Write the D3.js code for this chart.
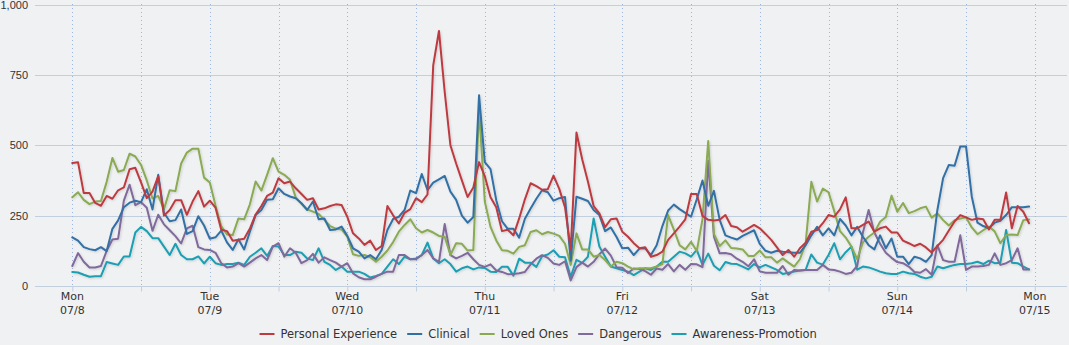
<!DOCTYPE html>
<html><head><meta charset="utf-8">
<script src="https://cdn.jsdelivr.net/npm/d3@7"></script>
<style>
html,body{margin:0;padding:0;background:#eff1f3;}
svg{display:block;font-family:"DejaVu Sans",sans-serif;}
</style></head><body>
<svg id="chart" width="1069" height="345"></svg>
<script>
// ---- data (hourly, Mon 07/8 00:00 .. Sun 07/14 23:00) ----
const seriesNames = ["Personal Experience", "Clinical", "Loved Ones", "Dangerous", "Awareness-Promotion"];
const seriesColors = ["#bd3b40", "#3170a5", "#8aaa52", "#80699b", "#1b9fb2"];

const personalExperience = [
 437,440,330,330,295,285,320,310,340,350,415,420,368,312,335,390,250,270,305,305,253,300,337,282,
 303,278,200,195,161,164,168,204,254,284,320,332,383,365,371,347,327,306,312,272,276,284,290,288,
 246,187,169,146,161,128,142,284,251,222,260,273,312,298,325,784,906,690,500,435,375,316,350,440,
 390,315,280,195,200,180,240,308,365,355,342,344,392,345,280,130,545,450,371,284,258,209,237,240,
 193,175,152,134,138,104,110,122,164,187,211,237,327,327,249,235,233,235,252,213,209,193,205,217,
 205,185,164,137,110,128,104,134,154,193,199,223,252,246,272,315,205,205,217,229,193,205,211,190,
 190,161,152,142,150,137,119,142,164,197,229,252,244,235,240,237,201,235,235,332,205,284,264,223];

const clinical = [
 173,161,138,131,127,138,124,203,233,280,296,303,298,344,272,395,260,230,234,272,185,195,248,215,
 168,173,197,155,128,166,130,193,252,270,306,308,347,327,318,312,294,270,300,237,240,199,201,211,
 178,134,122,98,110,95,128,199,238,246,270,339,330,398,341,367,379,391,335,306,250,225,245,678,
 440,415,305,230,203,203,172,239,275,310,340,333,303,312,316,90,317,310,302,270,252,195,208,174,
 134,136,110,133,134,110,145,213,268,289,273,260,246,308,375,285,338,235,180,172,165,178,188,198,
 150,125,118,125,122,120,118,118,145,180,210,180,205,180,238,215,180,210,175,145,130,180,134,169,
 104,104,78,104,98,86,110,270,383,430,427,496,496,318,225,213,205,225,232,252,280,280,280,282];

const lovedOnes = [
 315,333,306,291,300,302,370,455,406,412,470,460,430,375,311,320,273,340,337,435,474,488,488,385,
 368,286,213,183,181,240,237,290,371,339,395,454,406,395,377,315,292,272,264,256,235,213,204,201,
 175,113,107,110,102,86,104,126,156,193,217,237,205,190,199,190,178,175,110,152,150,126,128,630,
 300,210,162,127,125,115,139,145,192,198,184,192,186,178,150,75,187,130,130,104,110,92,69,86,
 81,69,59,63,63,63,69,78,252,200,145,130,157,124,237,515,185,142,162,135,133,130,107,107,
 126,102,102,83,98,83,69,95,150,370,300,346,333,266,195,172,140,95,155,175,190,228,245,321,
 264,295,259,266,276,282,243,258,234,215,234,240,244,208,184,198,211,194,152,181,183,181,234,236];

const dangerous = [
 71,117,86,66,66,71,125,165,168,303,360,287,298,278,196,253,219,198,177,151,205,214,138,130,
 128,118,81,66,69,81,69,83,98,110,92,140,152,104,134,118,81,92,114,83,102,92,83,69,
 81,45,31,24,24,33,43,51,51,110,110,95,95,110,128,98,86,220,110,98,107,118,95,75,
 68,77,55,50,42,43,45,50,77,97,110,100,80,75,88,20,67,83,69,86,113,133,108,67,
 65,46,62,60,53,40,62,58,78,52,75,58,78,77,67,445,175,116,117,113,97,86,70,95,
 52,47,47,47,71,40,57,55,57,57,57,75,59,57,51,43,47,71,190,270,190,150,118,100,
 85,81,69,50,47,60,40,145,92,86,86,180,57,69,69,71,75,116,75,81,92,134,59,59];

const awarenessPromotion = [
 50,48,40,33,35,35,85,80,75,105,105,190,210,195,170,170,140,110,150,110,95,95,105,80,
 104,81,75,78,78,83,75,104,118,134,107,142,140,110,110,122,118,98,92,134,86,75,57,69,
 51,51,51,43,30,36,43,69,95,78,104,95,98,110,154,98,81,95,78,51,63,69,59,66,
 64,51,50,68,68,37,97,83,83,68,106,112,127,104,102,33,93,82,104,240,140,104,69,63,
 57,51,39,51,63,57,69,86,86,104,122,116,104,128,75,115,72,56,85,79,78,69,59,78,
 66,75,66,57,43,47,51,55,57,112,83,76,110,152,95,120,140,58,69,66,59,51,45,43,
 43,51,45,43,33,27,33,69,63,69,75,78,78,81,86,78,90,81,83,199,83,81,69,59];

const dayLabels  = ["Mon", "Tue", "Wed", "Thu", "Fri", "Sat", "Sun", "Mon"];
const dateLabels = ["07/8", "07/9", "07/10", "07/11", "07/12", "07/13", "07/14", "07/15"];
const yTicks = [0, 250, 500, 750, 1000];

// ---- chart ----
const W = 1069, H = 345;
const svg = d3.select("#chart");
const start = new Date(2013, 6, 8, 0, 0, 0);
const hourAt = h => new Date(start.getTime() + h * 3600 * 1000);

const x = d3.scaleTime()
  .domain([hourAt(-6.51), hourAt(173.45)])
  .range([35, 1066]);
const y = d3.scaleLinear().domain([0, 1000]).range([286, 4.5]);

svg.append("rect").attr("width", W).attr("height", H).attr("fill", "#eff1f3");

// horizontal grid
svg.append("g").selectAll("line").data(yTicks.slice(1)).join("line")
  .attr("x1", 35).attr("x2", 1067)
  .attr("y1", d => Math.round(y(d)) + 0.5).attr("y2", d => Math.round(y(d)) + 0.5)
  .attr("stroke", "#c2cfdf").attr("stroke-width", 1);

// vertical dotted grid every 12h
const halfDays = d3.range(0, 15).map(i => hourAt(i * 12));
svg.append("g").selectAll("line").data(halfDays).join("line")
  .attr("x1", d => Math.round(x(d)) + 0.5).attr("x2", d => Math.round(x(d)) + 0.5)
  .attr("y1", 4).attr("y2", 286)
  .attr("stroke", "#9db4dc").attr("stroke-width", 1).attr("stroke-dasharray", "1,3");

// x axis
const xAxis = d3.axisBottom(x).tickValues(halfDays).tickSize(5).tickFormat("");
const gx = svg.append("g").attr("transform", "translate(0,286.5)").call(xAxis);
gx.select(".domain").attr("stroke", "#c2cfdf").attr("d", "M35,0H1067");
gx.selectAll(".tick line").attr("stroke", "#c2cfdf");

const dayTicks = d3.range(0, 8).map(i => hourAt(i * 24));
const xl = svg.append("g").selectAll("text").data(dayTicks).join("text")
  .attr("x", d => x(d)).attr("text-anchor", "middle")
  .attr("fill", "#333").attr("font-size", "11px");
xl.append("tspan").attr("x", d => x(d)).attr("y", 299.5).text((d, i) => dayLabels[i]);
xl.append("tspan").attr("x", d => x(d)).attr("y", 314).text((d, i) => dateLabels[i]);

// y axis labels
const yAxis = d3.axisLeft(y).tickValues(yTicks).tickSize(0).tickPadding(0)
  .tickFormat(d3.format(","));
const gy = svg.append("g").attr("transform", "translate(28,0)").call(yAxis);
gy.select(".domain").remove();
gy.selectAll("text").attr("fill", "#333").attr("font-size", "11px")
  .attr("font-family", "Liberation Sans, Arial, sans-serif");

// shadow
const defs = svg.append("defs");
const f = defs.append("filter").attr("id", "sh").attr("x", "-5%").attr("y", "-5%").attr("width", "110%").attr("height", "120%");
f.append("feDropShadow").attr("dx", 1).attr("dy", 1).attr("stdDeviation", 1)
  .attr("flood-color", "#000").attr("flood-opacity", 0.15);

const allSeries = [personalExperience, clinical, lovedOnes, dangerous, awarenessPromotion];
const line = d3.line().x((d, i) => x(hourAt(i))).y(d => y(d));
const gl = svg.append("g").attr("filter", "url(#sh)");
[4, 3, 2, 1, 0].forEach(k => {
  gl.append("path").datum(allSeries[k])
    .attr("d", line).attr("fill", "none")
    .attr("stroke", seriesColors[k]).attr("stroke-width", 2)
    .attr("stroke-linejoin", "round").attr("stroke-linecap", "round");
});

// legend
const lg = svg.append("g");
let cx = 0;
seriesNames.forEach((name, k) => {
  const g = lg.append("g");
  g.append("line").attr("x1", 0).attr("x2", 15).attr("y1", 0).attr("y2", 0)
    .attr("stroke", seriesColors[k]).attr("stroke-width", 2);
  const t = g.append("text").attr("x", 21).attr("y", 4).attr("font-size", "11.5px")
    .attr("fill", "#333").text(name);
  const w = 21 + t.node().getComputedTextLength();
  g.attr("transform", `translate(${cx},0)`);
  cx += w + 10;
});
const totalW = cx - 10;
lg.attr("transform", `translate(${Math.round(538 - totalW / 2) + 0.5},334)`);
</script>
</body></html>
